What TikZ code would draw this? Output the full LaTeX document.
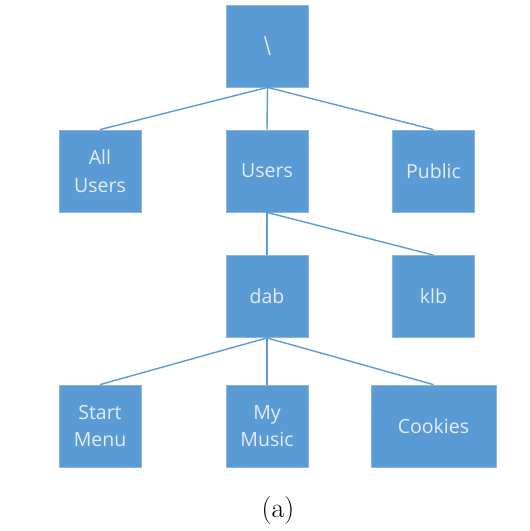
\documentclass[tikz,border=0pt]{standalone}
\usepackage{fontspec}
\setsansfont{Open Sans}
\usepackage{tikz}
\definecolor{boxblue}{HTML}{5B9BD5}
\definecolor{boxedge}{HTML}{8FB4DA}
\definecolor{boxtext}{HTML}{E4EEF8}
\tikzset{folder/.style={rectangle, fill=boxblue, draw=boxedge, line width=0.8pt,
    minimum width=82pt, minimum height=82pt, inner sep=0pt, align=center,
    text=boxtext, font=\sffamily\fontsize{19.5}{27.5}\selectfont}}
\tikzset{link/.style={draw=boxblue, line width=1.4pt}}

\begin{document}
\begin{tikzpicture}[x=1pt, y=-1pt]
      \useasboundingbox (0, 0) rectangle (530, 531);

      \node[folder] (root) at (267.5, 46) {\scalebox{1}[1.35]{\textbackslash}};
      \node[folder] (allusers) at (100, 171) {All\\Users};
      \node[folder] (users) at (267, 171) {Users};
      \node[folder] (public) at (433.5, 171) {Public};
      \node[folder] (dab) at (267, 296.5) {dab};
      \node[folder] (klb) at (433.5, 296.5) {klb};
      \node[folder] (startmenu) at (100, 426) {Start\\Menu};
      \node[folder] (mymusic) at (267, 426) {My\\Music};
      \node[folder, minimum width=125pt] (cookies) at (433.5, 426) {Cookies};

      \draw[link] (root.south) -- (allusers.north);
      \draw[link] (root.south) -- (users.north);
      \draw[link] (root.south) -- (public.north);
      \draw[link] (users.south) -- (dab.north);
      \draw[link] (users.south) -- (klb.north);
      \draw[link] (dab.south) -- (startmenu.north);
      \draw[link] (dab.south) -- (mymusic.north);
      \draw[link] (dab.south) -- (cookies.north);

      \node[font=\fontsize{28}{32}\selectfont] (caption) at (278, 511) {(a)};
    \end{tikzpicture}
\end{document}
